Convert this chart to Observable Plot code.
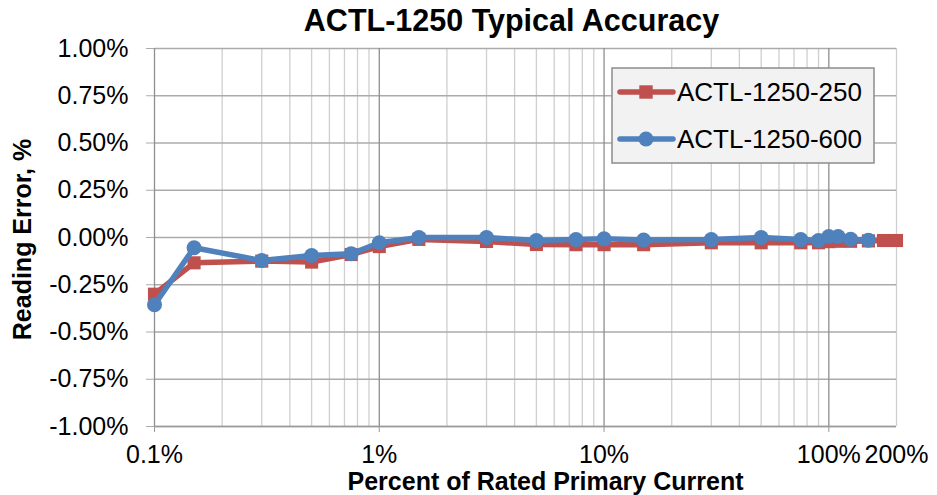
<!DOCTYPE html>
<html><head><meta charset="utf-8">
<script src="https://cdn.jsdelivr.net/npm/d3@7"></script>
<script src="https://cdn.jsdelivr.net/npm/@observablehq/plot@0.6"></script>
<style>body{margin:0;background:#fff;}</style>
</head><body><div id="chart"></div>
<script>
const chartTitle = "ACTL-1250 Typical Accuracy";
const xLabel = "Percent of Rated Primary Current";
const yLabel = "Reading Error, %";
const seriesNames = ["ACTL-1250-250", "ACTL-1250-600"];
const seriesColors = ["#c0504d", "#4f81bd"];

const current250 = [0.1, 0.15, 0.3, 0.5, 0.75, 1, 1.5, 3, 5, 7.5, 10, 15, 30, 50, 75, 90, 100, 110, 125, 150, 175, 200];
const error250   = [-0.30, -0.134, -0.125, -0.13, -0.09, -0.048, -0.01, -0.021, -0.037, -0.038, -0.038, -0.038, -0.028, -0.028, -0.028, -0.028, -0.022, -0.02, -0.02, -0.018, -0.016, -0.016];

const current600 = [0.1, 0.15, 0.3, 0.5, 0.75, 1, 1.5, 3, 5, 7.5, 10, 15, 30, 50, 75, 90, 100, 110, 125, 150];
const error600   = [-0.356, -0.054, -0.122, -0.095, -0.086, -0.028, 0, 0, -0.016, -0.011, -0.007, -0.013, -0.011, 0, -0.011, -0.016, 0.005, 0.005, -0.009, -0.014];

const yTicks = [-1, -0.75, -0.5, -0.25, 0, 0.25, 0.5, 0.75, 1];
const xTicks = [0.1, 1, 10, 100, 200];
const xTickLabels = ["0.1%", "1%", "10%", "100%", "200%"];
const majorX = [0.1, 1, 10, 100];
const minorX = [0.2, 0.3, 0.4, 0.5, 0.6, 0.7, 0.8, 0.9, 2, 3, 4, 5, 6, 7, 8, 9, 20, 30, 40, 50, 60, 70, 80, 90, 200];

const d250 = current250.map((x, i) => ({x, y: error250[i]}));
const d600 = current600.map((x, i) => ({x, y: error600[i]}));
const xLabelMap = new Map(xTicks.map((t, i) => [t, xTickLabels[i]]));

const font = "'Liberation Sans', Arial, Helvetica, sans-serif";

const svg = Plot.plot({
  width: 937,
  height: 495,
  marginTop: 48,
  marginBottom: 69,
  marginLeft: 154,
  marginRight: 41,
  style: {fontFamily: font, background: "#fff", color: "#000", overflow: "visible"},
  x: {type: "log", domain: [0.1, 200]},
  y: {domain: [-1, 1]},
  marks: [
    Plot.ruleX(minorX, {stroke: "#cfcfcf", strokeWidth: 1.3}),
    Plot.ruleY(yTicks, {stroke: "#ababab", strokeWidth: 1.3}),
    Plot.ruleX(majorX, {stroke: "#8f8f8f", strokeWidth: 1.3}),
    Plot.ruleY([-1], {stroke: "#9a9a9a", strokeWidth: 1.5}),
    Plot.axisY(yTicks, {tickSize: 8, tickPadding: 18, stroke: "#ababab", fill: "#000", fontSize: 25,
      tickFormat: d => d.toFixed(2) + "%", label: null}),
    Plot.axisX(majorX, {tickSize: 6, stroke: "#9a9a9a", tickFormat: () => "", label: null}),
    Plot.axisX(xTicks, {tickSize: 0, tickPadding: 19, fill: "#000", fontSize: 25,
      tickFormat: d => xLabelMap.get(d), label: null}),
    Plot.line(d250, {x: "x", y: "y", stroke: seriesColors[0], strokeWidth: 5.5}),
    Plot.dot(d250, {x: "x", y: "y", symbol: "square", r: 7.4, fill: seriesColors[0], stroke: "none"}),
    Plot.line(d600, {x: "x", y: "y", stroke: seriesColors[1], strokeWidth: 5.5}),
    Plot.dot(d600, {x: "x", y: "y", symbol: "circle", r: 7.5, fill: seriesColors[1], stroke: "none"}),
    Plot.text([chartTitle], {text: d => d, frameAnchor: "top", dx: -14, dy: -27, lineAnchor: "middle",
      fontSize: 30.5, fontWeight: "bold", fill: "#000"}),
    Plot.text([xLabel], {text: d => d, frameAnchor: "bottom", dx: 20, dy: 55, lineAnchor: "middle",
      fontSize: 25, fontWeight: "bold", fill: "#000"}),
    Plot.text([yLabel], {text: d => d, frameAnchor: "left", textAnchor: "middle", dx: -132, dy: 2, rotate: -90,
      lineAnchor: "middle", fontSize: 25, fontWeight: "bold", fill: "#000"})
  ]
});

// Legend
const sel = d3.select(svg);
const lg = sel.append("g").attr("font-family", font);
lg.append("rect").attr("x", 612).attr("y", 68).attr("width", 262).attr("height", 95)
  .attr("fill", "#f2f2f2").attr("stroke", "#8c8c8c").attr("stroke-width", 1.5);
seriesNames.forEach((name, i) => {
  const cy = i === 0 ? 92 : 139;
  const c = seriesColors[i];
  lg.append("line").attr("x1", 620).attr("x2", 673).attr("y1", cy).attr("y2", cy)
    .attr("stroke", c).attr("stroke-width", 5.5).attr("stroke-linecap", "round");
  if (i === 0) {
    lg.append("rect").attr("x", 646 - 6.7).attr("y", cy - 6.7).attr("width", 13.4).attr("height", 13.4).attr("fill", c);
  } else {
    lg.append("circle").attr("cx", 646).attr("cy", cy).attr("r", 7.5).attr("fill", c);
  }
  lg.append("text").attr("x", 677).attr("y", cy).attr("dy", "0.35em").attr("font-size", 26)
    .attr("text-anchor", "start").attr("fill", "#000").text(name);
});

document.getElementById("chart").appendChild(svg);
</script>
</body></html>
